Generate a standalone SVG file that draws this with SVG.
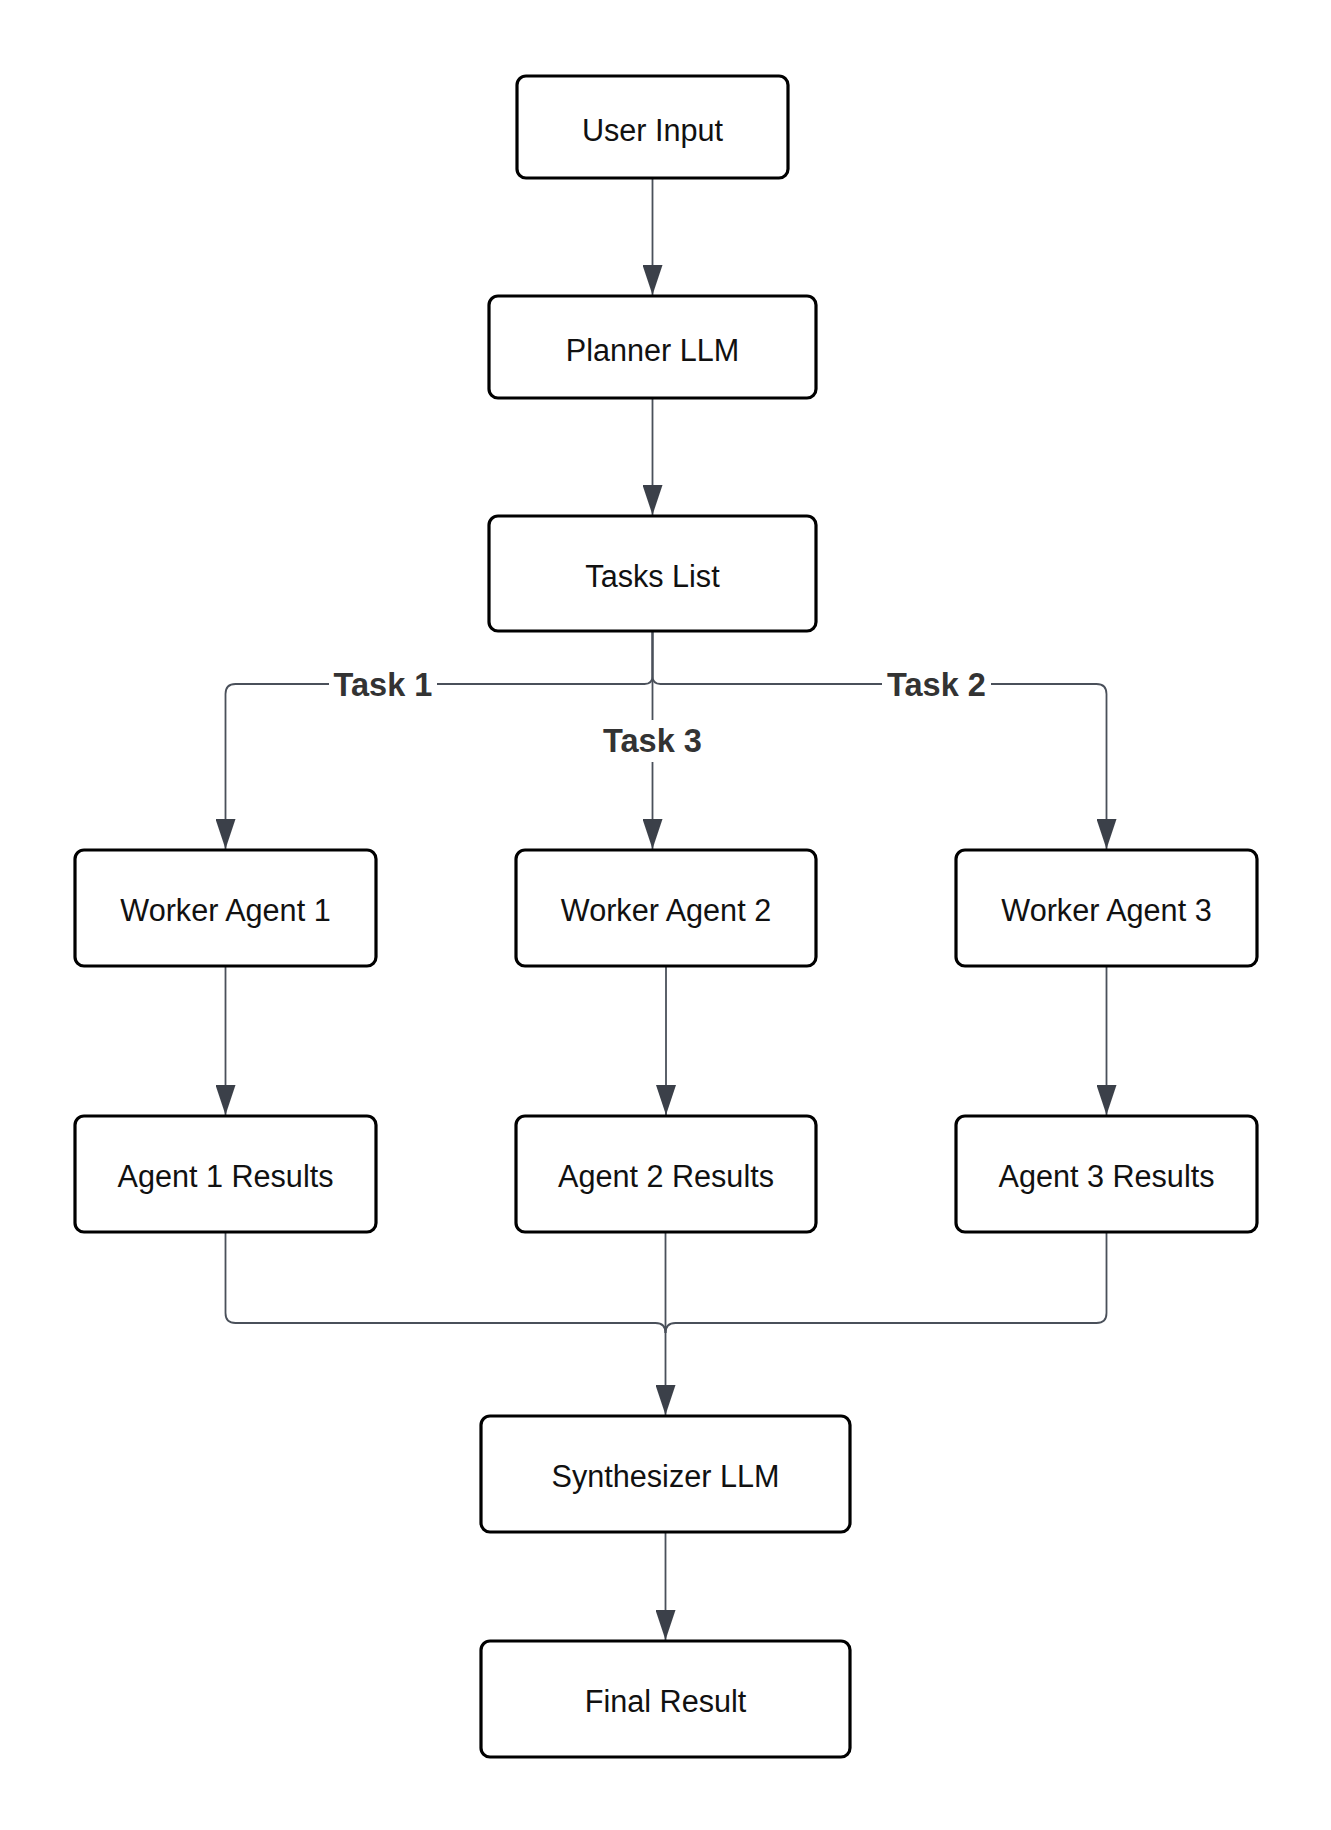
<svg xmlns="http://www.w3.org/2000/svg" width="1331" height="1830" viewBox="0 0 1331 1830">
<style>
.node rect{fill:#ffffff;stroke:#000000;stroke-width:3.2}
.node text{font-family:"Liberation Sans",Arial,sans-serif;font-size:30.6px;fill:#111111;text-anchor:middle}
.edge{fill:none;stroke:#4a505a;stroke-width:1.8}
.arrow{marker-end:url(#ah)}
.lbl rect{fill:#ffffff}
.lbl text{font-family:"Liberation Sans",Arial,sans-serif;font-size:32.5px;font-weight:bold;fill:#333333;text-anchor:middle}
</style>
<defs>
<marker id="ah" viewBox="0 0 30 20" refX="30" refY="10" markerWidth="30" markerHeight="20" markerUnits="userSpaceOnUse" orient="auto">
<path d="M0,0 L30,10 L0,20 z" fill="#3b4049"/>
</marker>
</defs>
<rect width="1331" height="1830" fill="#ffffff"/>
<g id="connectors">
<path class="edge arrow" d="M652.5,178 V295"/>
<path class="edge arrow" d="M652.5,398 V515"/>
<path class="edge arrow" d="M652.5,631 V676 Q652.5,684 644.5,684 H235.5 Q225.5,684 225.5,694 V849"/>
<path class="edge arrow" d="M652.5,631 V849"/>
<path class="edge arrow" d="M652.5,631 V676 Q652.5,684 660.5,684 H1096.5 Q1106.5,684 1106.5,694 V849"/>
<path class="edge arrow" d="M225.5,966 V1115"/>
<path class="edge arrow" d="M666,966 V1115"/>
<path class="edge arrow" d="M1106.5,966 V1115"/>
<path class="edge" d="M225.5,1232 V1313 Q225.5,1323 235.5,1323 H655.5 Q665.5,1323 665.5,1333"/>
<path class="edge" d="M1106.5,1232 V1313 Q1106.5,1323 1096.5,1323 H675.5 Q665.5,1323 665.5,1333"/>
<path class="edge arrow" d="M665.5,1232 V1415"/>
<path class="edge arrow" d="M665.5,1532 V1640"/>
<g class="lbl">
<rect x="329" y="663" width="108" height="42"/>
<text x="383" y="696">Task 1</text>
<rect x="882" y="663" width="109" height="42"/>
<text x="936.5" y="696">Task 2</text>
<rect x="598" y="720" width="109" height="42"/>
<text x="652.5" y="752">Task 3</text>
</g>
</g>
<g id="user-input" class="node"><rect x="517" y="76" width="271" height="102" rx="9"/><text x="652.5" y="141">User Input</text></g>
<g id="planner-llm" class="node"><rect x="489" y="296" width="327" height="102" rx="9"/><text x="652.5" y="361">Planner LLM</text></g>
<g id="tasks-list" class="node"><rect x="489" y="516" width="327" height="115" rx="9"/><text x="652.5" y="587">Tasks List</text></g>
<g id="worker-agent-1" class="node"><rect x="75" y="850" width="301" height="116" rx="9"/><text x="225.5" y="921">Worker Agent 1</text></g>
<g id="worker-agent-2" class="node"><rect x="516" y="850" width="300" height="116" rx="9"/><text x="666" y="921">Worker Agent 2</text></g>
<g id="worker-agent-3" class="node"><rect x="956" y="850" width="301" height="116" rx="9"/><text x="1106.5" y="921">Worker Agent 3</text></g>
<g id="agent-1-results" class="node"><rect x="75" y="1116" width="301" height="116" rx="9"/><text x="225.5" y="1187">Agent 1 Results</text></g>
<g id="agent-2-results" class="node"><rect x="516" y="1116" width="300" height="116" rx="9"/><text x="666" y="1187">Agent 2 Results</text></g>
<g id="agent-3-results" class="node"><rect x="956" y="1116" width="301" height="116" rx="9"/><text x="1106.5" y="1187">Agent 3 Results</text></g>
<g id="synthesizer-llm" class="node"><rect x="481" y="1416" width="369" height="116" rx="9"/><text x="665.5" y="1487">Synthesizer LLM</text></g>
<g id="final-result" class="node"><rect x="481" y="1641" width="369" height="116" rx="9"/><text x="665.5" y="1712">Final Result</text></g>
</svg>
